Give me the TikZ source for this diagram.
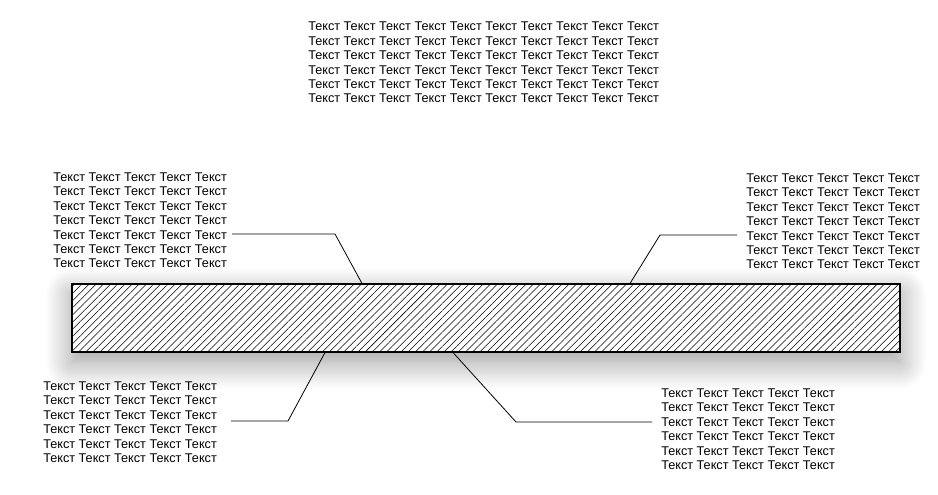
\documentclass[tikz,border=0pt]{standalone}
\usepackage{fontspec}
\setmainfont{Liberation Sans}
\usetikzlibrary{patterns.meta,shadows.blur}
\newcommand{\wordrow}{Текст Текст Текст Текст Текст}
\newcommand{\longrow}{\wordrow{} \wordrow}
\tikzset{
  note/.style={anchor=north west, inner sep=0pt, align=left,
    font=\fontsize{9.5pt}{10.8pt}\selectfont},
  leader/.style={draw=black, line width=0.6pt},
  hatchbar/.style={draw=black, line width=0.8pt, fill=white,
    postaction={pattern={Lines[angle=45,distance=3.8pt,line width=0.4pt]}},
    minimum width=621pt, minimum height=51pt, inner sep=0pt,
    blur shadow={shadow xshift=0pt, shadow yshift=-8pt,
      shadow blur radius=20pt, shadow blur steps=25, shadow opacity=40}}
}
\begin{document}
\begin{tikzpicture}[x=0.75pt, y=-0.75pt]
  \useasboundingbox (0,0) rectangle (938,495);
  % Coordinates
  \coordinate (A) at (335,234);
  \coordinate (B) at (660,235);
  \coordinate (C) at (288,421);
  \coordinate (D) at (516,422);

  % Bar
  \node[hatchbar] (bar) at (486,318) {};

  % Notes
  \node[note] (top) at (308,22) {\longrow\\ \longrow\\ \longrow\\ \longrow\\ \longrow\\ \longrow};
  \node[note] (ul) at (53,172.5) {\wordrow\\ \wordrow\\ \wordrow\\ \wordrow\\ \wordrow\\ \wordrow\\ \wordrow};
  \node[note] (ur) at (746,173.5) {\wordrow\\ \wordrow\\ \wordrow\\ \wordrow\\ \wordrow\\ \wordrow\\ \wordrow};
  \node[note] (ll) at (43,381.5) {\wordrow\\ \wordrow\\ \wordrow\\ \wordrow\\ \wordrow\\ \wordrow};
  \node[note] (lr) at (661,388.5) {\wordrow\\ \wordrow\\ \wordrow\\ \wordrow\\ \wordrow\\ \wordrow};

  % Leaders
  \draw[leader] (ul.east |- A) ++(5,0) -- (A) -- (bar.north -| 362,0);
  \draw[leader] (ur.west |- B) ++(-9,0) -- (B) -- (bar.north -| 630,0);
  \draw[leader] (ll.east |- C) ++(14,0) -- (C) -- (bar.south -| 325,0);
  \draw[leader] (lr.west |- D) ++(-9,0) -- (D) -- (bar.south -| 453,0);
\end{tikzpicture}
\end{document}
